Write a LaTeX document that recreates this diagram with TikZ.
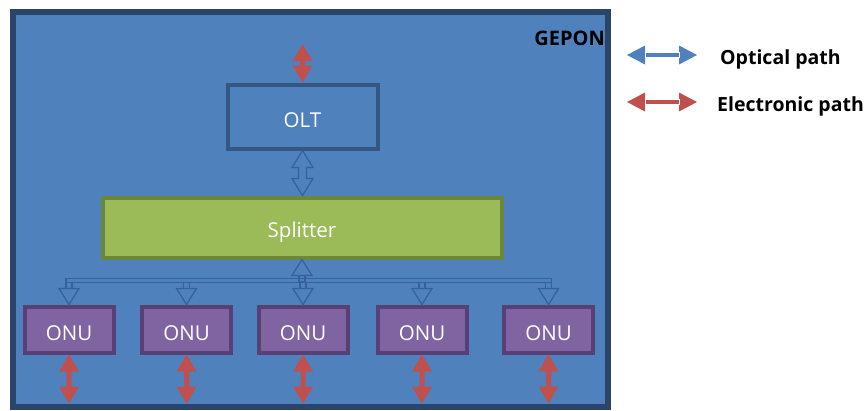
\documentclass[tikz,border=0pt]{standalone}
\usepackage{fontspec}
\setmainfont{Open Sans}
\usetikzlibrary{calc}
\definecolor{bgblue}{HTML}{4F81BD}
\definecolor{framecol}{RGB}{42,68,106}
\definecolor{oltedge}{RGB}{52,86,130}
\definecolor{onufill}{HTML}{8064A2}
\definecolor{onuedge}{RGB}{88,64,118}
\definecolor{splfill}{HTML}{9BBB59}
\definecolor{spledge}{RGB}{108,134,60}
\definecolor{eRed}{HTML}{C0504D}
\definecolor{connblue}{RGB}{52,96,156}
% vertical filled double arrow between two named points (top, bottom)
\newcommand\vblock[3]{%
  \fill[#3] let \p1=(#1), \p2=(#2) in
    (\x1,\y1) -- (\x1+10pt,\y1-17pt) -- (\x1+2.5pt,\y1-17pt) -- (\x1+2.5pt,\y2+17pt)
    -- (\x1+10pt,\y2+17pt) -- (\x1,\y2) -- (\x1-10pt,\y2+17pt) -- (\x1-2.5pt,\y2+17pt)
    -- (\x1-2.5pt,\y1-17pt) -- (\x1-10pt,\y1-17pt) -- cycle;}
% horizontal filled double arrow (legend)
\newcommand\hblock[3]{%
  \fill[#3] let \p1=(#1), \p2=(#2) in
    (\x1,\y1) -- (\x1+18pt,\y1+9.5pt) -- (\x1+18pt,\y1-9.5pt) -- cycle
    (\x2,\y1) -- (\x2-18pt,\y1+9.5pt) -- (\x2-18pt,\y1-9.5pt) -- cycle;
  \draw[white,line width=0.7pt,fill=#3] let \p1=(#1), \p2=(#2) in
    (\x1+18pt,\y1-2.5pt) rectangle (\x2-18pt,\y1+2.5pt);}
% vertical hollow double arrow
\newcommand\vhollow[2]{%
  \draw[hollow] let \p1=(#1), \p2=(#2) in
    (\x1,\y1) -- (\x1+10.5pt,\y1-17pt) -- (\x1+4pt,\y1-17pt) -- (\x1+4pt,\y2+17pt)
    -- (\x1+10.5pt,\y2+17pt) -- (\x1,\y2) -- (\x1-10.5pt,\y2+17pt) -- (\x1-4pt,\y2+17pt)
    -- (\x1-4pt,\y1-17pt) -- (\x1-10.5pt,\y1-17pt) -- cycle;}
\begin{document}
\begin{tikzpicture}[x=1pt,y=-1pt,
  lbl/.style={text=white,font=\fontsize{20.5}{24}\selectfont,text height=22pt,text depth=0pt},
  box/.style={line width=4pt,inner sep=0pt,lbl},
  oltbox/.style={box,draw=oltedge,fill=bgblue,minimum width=150pt,minimum height=64pt},
  splbox/.style={box,draw=spledge,fill=splfill,minimum width=399pt,minimum height=60pt},
  onubox/.style={box,draw=onuedge,fill=onufill,minimum width=89pt,minimum height=46pt},
  hollow/.style={draw=connblue,line width=1.2pt},
  legtext/.style={font=\bfseries\fontsize{19.5}{23}\selectfont,text=black,inner sep=0pt}
]
\useasboundingbox (0,0) rectangle (868,410);
% outer frame
\node[draw=framecol,fill=bgblue,line width=6pt,minimum width=595pt,minimum height=395pt,inner sep=0pt] (gepon) at (310.5,209.5) {};
\node[legtext,font=\bfseries\fontsize{20}{24}\selectfont,anchor=base east] (title) at (605,45) {GEPON};

% nodes
\node[oltbox] (olt) at (302.5,116.5) {OLT};
\node[splbox,text height=20pt] (spl) at (302,227.5) {Splitter};
\foreach \i/\x in {1/69,2/186.5,3/303,4/422,5/548.5}{
  \node[onubox] (onu\i) at (\x,329.5) {ONU};
}

% top electronic arrow
\coordinate (toptip) at (302.5,44);
\vblock{toptip}{olt.north}{eRed}

% OLT - splitter optical
\vhollow{olt.south}{spl.north}

% splitter tree
\draw[hollow] (spl.south) -- ++(-10,16) -- ++(20,0) -- cycle;
\draw[hollow] ($(spl.south)+(-3,16)$) rectangle ($(spl.south)+(3,22)$);
\draw[hollow] ($(onu1.north)+(-3,-26)$) rectangle ($(onu5.north)+(3,-22)$);
\foreach \i in {1,...,5}{
  \draw[hollow] ($(onu\i.north)+(-3,-22)$) rectangle ($(onu\i.north)+(3,-16)$);
  \draw[hollow] (onu\i.north) -- ++(-10,-16) -- ++(20,0) -- cycle;
}

% ONU electronic arrows
\foreach \i in {1,...,5}{
  \coordinate (e\i) at ($(onu\i.south)+(0,49)$);
  \vblock{onu\i.south}{e\i}{eRed}
}

% legend
\coordinate (lb1) at (627,55);
\coordinate (lb2) at (697,55);
\coordinate (lr1) at (627,102);
\coordinate (lr2) at (697,102);
\hblock{lb1}{lb2}{bgblue}
\hblock{lr1}{lr2}{eRed}
\node[legtext,anchor=base west] (lopt) at (720,64) {Optical path};
\node[legtext,anchor=base west] (lele) at (717,111) {Electronic path};
\end{tikzpicture}
\end{document}
